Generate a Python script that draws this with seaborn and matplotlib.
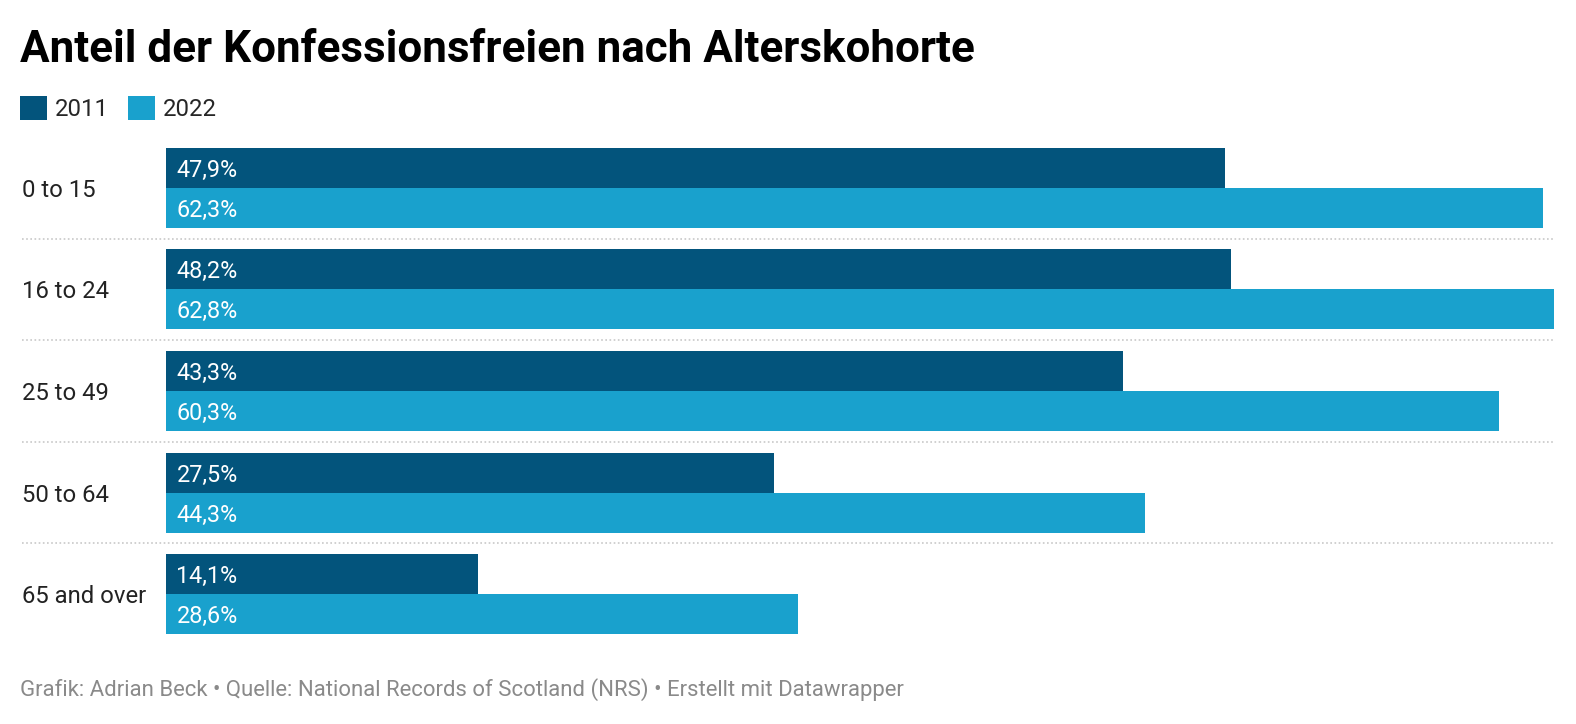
import matplotlib
matplotlib.use('Agg')
import matplotlib.pyplot as plt
import matplotlib.transforms as mtransforms
from matplotlib.patches import Patch
import seaborn as sns
import pandas as pd

# data
groups = ['0 to 15', '16 to 24', '25 to 49', '50 to 64', '65 and over']
share_2011 = [47.9, 48.2, 43.3, 27.5, 14.1]
share_2022 = [62.3, 62.8, 60.3, 44.3, 28.6]
years = ['2011', '2022']
colors = ['#03547c', '#19a1cd']

df = pd.DataFrame({
    'Alter': groups * 2,
    'Jahr': ['2011'] * len(groups) + ['2022'] * len(groups),
    'Anteil': share_2011 + share_2022,
})

sns.set_style('white')
plt.rcParams['font.family'] = ['Roboto', 'DejaVu Sans']

W, H = 1576, 724
fig = plt.figure(figsize=(W / 100, H / 100), dpi=100)
ax = fig.add_axes([166 / W, 1 - 645 / H, 1388 / W, 508 / H])

sns.barplot(data=df, y='Alter', x='Anteil', hue='Jahr', orient='h',
            palette=colors, hue_order=years, width=0.787, gap=0,
            saturation=1, linewidth=0, edgecolor='none',
            legend=False, ax=ax)

ax.set_xlim(0, max(share_2022))
ax.set_ylim(len(groups) - 0.5, -0.5)
ax.set(xlabel=None, ylabel=None)
ax.set_xticks([])
ax.set_yticks([])
for s in ax.spines.values():
    s.set_visible(False)

# value labels inside bars
for cont in ax.containers:
    for bar in cont:
        v = bar.get_width()
        ax.annotate(f'{v:.1f}%'.replace('.', ','),
                    xy=(0, bar.get_y() + bar.get_height() / 2),
                    xytext=(7.5, 0), textcoords='offset points',
                    ha='left', va='center_baseline', color='white', fontsize=16.8)

# category labels
trans = mtransforms.blended_transform_factory(fig.transFigure, ax.transData)
for i, g in enumerate(groups):
    ax.text(22 / W, i, g, transform=trans, fontsize=17.2,
            color='#222222', ha='left', va='center_baseline')

# dotted separators
for i in range(len(groups) - 1):
    ax.hlines(i + 0.5, (22 - 166) / 1388, 1.0, transform=ax.get_yaxis_transform(),
              colors='#c8c8c8', linestyles=(0, (1, 1.5)), linewidth=1.2, clip_on=False)

fig.text(20 / W, 1 - 62 / H, 'Anteil der Konfessionsfreien nach Alterskohorte',
         fontsize=31.7, fontweight='bold', color='black', ha='left', va='baseline')

handles = [Patch(facecolor=c, edgecolor='none') for c in colors]
fig.legend(handles, years, loc='upper left', bbox_to_anchor=(20 / W, 1 - 96 / H),
           ncol=2, frameon=False, fontsize=17.2, handlelength=1.15, handleheight=1.15,
           handletextpad=0.3, columnspacing=0.8, borderpad=0, borderaxespad=0)

fig.text(20 / W, 1 - 690 / H,
         'Grafik: Adrian Beck • Quelle: National Records of Scotland (NRS) • Erstellt mit Datawrapper',
         fontsize=15.9, color='#8a8a8a', ha='left', va='center')

plt.savefig('out.png', dpi=100)
